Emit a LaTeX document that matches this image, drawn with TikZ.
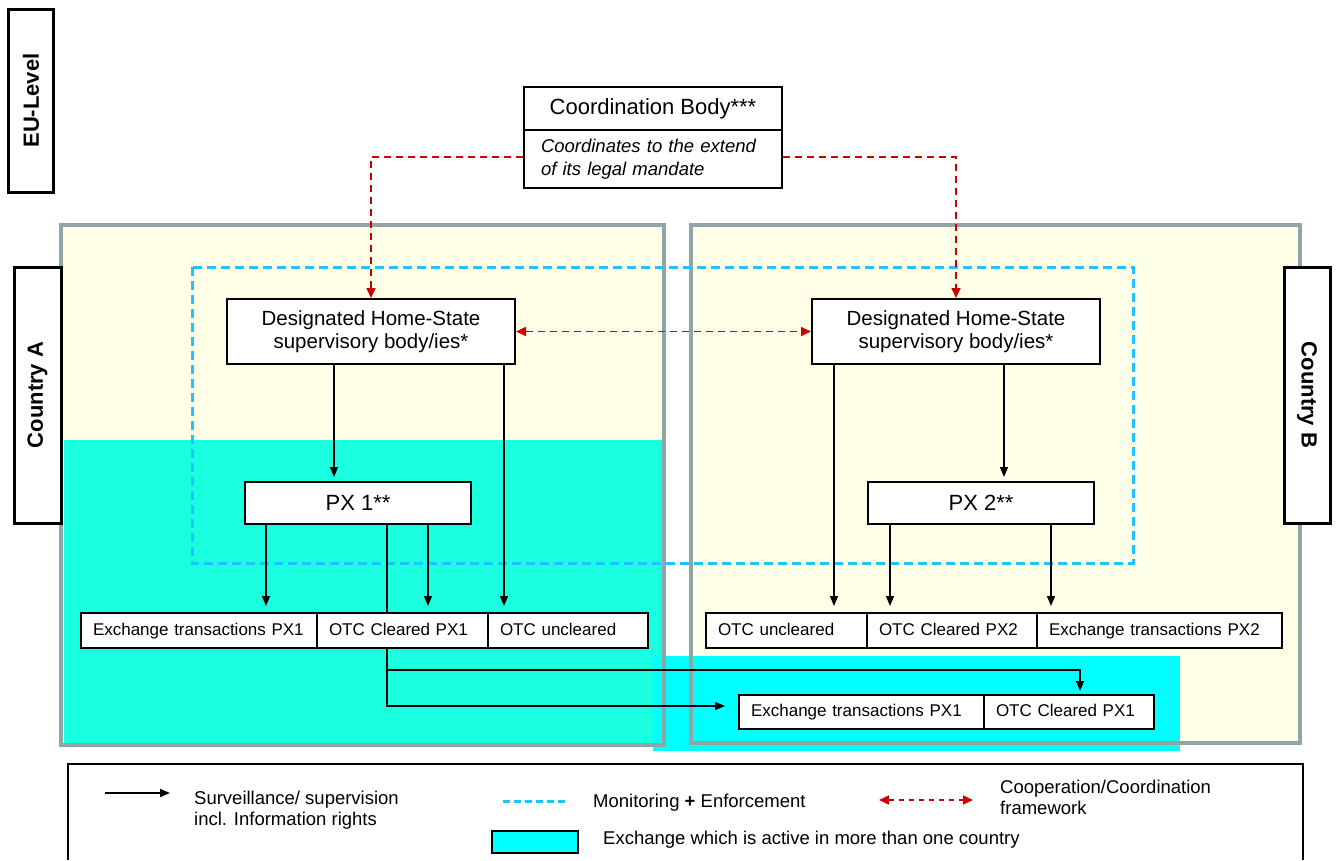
\documentclass[tikz,border=0pt]{standalone}
\usepackage{fontspec}
\setmainfont{Liberation Sans}
\usepackage{xcolor}
\definecolor{paleyellow}{HTML}{FFFEE6}
\definecolor{framegrey}{HTML}{8FA5A6}
\definecolor{turquoise}{HTML}{1AFFE0}
\definecolor{aqua}{HTML}{00FFFF}
\definecolor{skyblue}{HTML}{1EC3FF}
\definecolor{coopred}{HTML}{CC0000}
\usetikzlibrary{arrows.meta}
\tikzset{
    x=1pt, y=-1pt,
    box/.style = {draw, line width=2pt, fill=white, inner sep=0pt, align=center},
    cell/.style = {box, minimum height=35pt, inner xsep=12pt, text height=12.5pt, text depth=3.5pt, align=left, font=\fontsize{17}{20}\selectfont},
    tag/.style = {draw, line width=3pt, fill=white, inner sep=0pt, font=\fontsize{22}{26}\selectfont\bfseries},
    sup/.style = {-{Triangle[length=10pt,width=8pt]}, line width=1.3pt},
    coop/.style = {>={Triangle[length=10pt,width=9pt]}, draw=coopred, line width=1.6pt, dash pattern=on 7pt off 5pt},
    monitor/.style = {draw=skyblue, line width=3pt, dash pattern=on 9pt off 5pt},
    country/.style = {draw=framegrey, line width=3.5pt},
    leg/.style = {inner sep=0pt, anchor=west, align=left, font=\fontsize{18.5}{21.5}\selectfont}
}

\begin{document}
\begin{tikzpicture}
      \useasboundingbox (0,0) rectangle (1340,860);

      % countries and the cross-border area
      \fill[paleyellow] (61,225) rectangle (664,745);
      \fill[paleyellow] (691,225) rectangle (1300,743);
      \fill[turquoise] (64,440) rectangle (662,745);
      \fill[aqua] (653,656) rectangle (1180,751);
      \draw[country] (61,225) rectangle (664,745);
      \draw[country] (691,225) rectangle (1300,743);
      \draw[monitor] (192,267) rectangle (1133,563);

      \node[tag, rotate=90, minimum width=183pt, minimum height=45pt] (eu) at (31,100.5) {EU-Level};
      \node[tag, rotate=90, minimum width=256pt, minimum height=47pt] (countryA) at (37.5,395) {Country A};
      \node[tag, rotate=-90, minimum width=256pt, minimum height=46pt] (countryB) at (1307,395) {Country B};

      \node[box, font=\fontsize{22}{26}\selectfont, minimum width=258pt, minimum height=43pt] (coord) at (653,108.5) {Coordination Body***};
      \node[box, font=\fontsize{18.5}{23}\selectfont\itshape, align=left, text width=224pt, inner xsep=17pt, minimum height=58pt] (mandate) at (653,159) {Coordinates to the extend\\of its legal mandate};

      \node[box, font=\fontsize{20.5}{23}\selectfont, minimum width=288pt, minimum height=65pt] (desA) at (371,331.5) {Designated Home-State\\supervisory body/ies*};
      \node[box, font=\fontsize{20.5}{23}\selectfont, minimum width=288pt, minimum height=65pt] (desB) at (956,331.5) {Designated Home-State\\supervisory body/ies*};

      \node[box, font=\fontsize{22}{26}\selectfont, minimum width=226pt, minimum height=42pt] (px1) at (358,503) {PX 1**};
      \node[box, font=\fontsize{22}{26}\selectfont, minimum width=226pt, minimum height=42pt] (px2) at (981,503) {PX 2**};

      \node[cell, text width=212pt] (exA) at (199,630.5) {Exchange transactions PX1};
      \node[cell, text width=147pt] (otcA) at (402.5,630.5) {OTC Cleared PX1};
      \node[cell, text width=136pt] (uncA) at (568,630.5) {OTC uncleared};

      \node[cell, text width=137pt] (uncB) at (786.5,630.5) {OTC uncleared};
      \node[cell, text width=146pt] (otcB) at (952,630.5) {OTC Cleared PX2};
      \node[cell, text width=221pt] (exB) at (1159.5,630.5) {Exchange transactions PX2};

      \node[cell, text width=221pt, minimum height=34pt] (exC) at (861.5,712) {Exchange transactions PX1};
      \node[cell, text width=146pt, minimum height=34pt] (otcC) at (1069,712) {OTC Cleared PX1};

      % coordination
      \draw[coop, ->] ([yshift=2pt]mandate.west) -| (desA.north);
      \draw[coop, ->] ([yshift=2pt]mandate.east) -| (desB.north);
      \draw[coop, <->] (desA.east) -- (desB.west);

      % supervision, country A
      \draw[sup, shorten >=4pt] ([xshift=-37pt]desA.south) -- ([xshift=-24pt]px1.north);
      \draw[sup, shorten >=6pt] ([xshift=133pt]desA.south) -- ([xshift=-64pt]uncA.north);
      \draw[sup, shorten >=6pt] ([xshift=-92pt]px1.south) -- ([xshift=67pt]exA.north);
      \draw[sup, shorten >=6pt] ([xshift=70pt]px1.south) -- ([xshift=25.5pt]otcA.north);
      \draw[line width=1.3pt] ([xshift=29pt]px1.south) -- ([xshift=-15.5pt]otcA.north);
      \draw[sup, shorten >=13pt] ([xshift=-15.5pt]otcA.south) |- ([yshift=6pt]exC.west);
      \coordinate (fork) at ([xshift=-15.5pt, yshift=-21pt]otcA.south);
      \draw[sup, shorten >=3pt] (fork) -| ([xshift=11pt]otcC.north);

      % supervision, country B
      \draw[sup, shorten >=6pt] ([xshift=-122pt]desB.south) -- ([xshift=47.5pt]uncB.north);
      \draw[sup, shorten >=4pt] ([xshift=48pt]desB.south) -- ([xshift=23pt]px2.north);
      \draw[sup, shorten >=6pt] ([xshift=-91pt]px2.south) -- ([xshift=-62pt]otcB.north);
      \draw[sup, shorten >=6pt] ([xshift=70pt]px2.south) -- ([xshift=-108.5pt]exB.north);

      % legend
      \draw[line width=1.2pt] (68,860) |- (1303,764) -- (1303,860);
      \coordinate (supA) at (105,793);
      \coordinate (supB) at (170,793);
      \draw[sup, line width=1.8pt] (supA) -- (supB);
      \node[leg] (legSup) at (194,810) {Surveillance/ supervision\\incl. Information rights};
      \coordinate (monA) at (503,801);
      \coordinate (monB) at (567,801);
      \draw[monitor, dash pattern=on 7pt off 4pt] (monA) -- (monB);
      \node[leg] (legMon) at (593,803) {Monitoring \textbf{+} Enforcement};
      \coordinate (coopA) at (879,800);
      \coordinate (coopB) at (973,800);
      \draw[coop, <->, dash pattern=on 5pt off 5pt] (coopA) -- (coopB);
      \node[leg] (legCoop) at (1000,797.5) {Cooperation/Coordination\\framework};
      \node[box, fill=aqua, line width=1.5pt, minimum width=86pt, minimum height=22pt] (legCross) at (535,842) {};
      \node[leg] (legCrossText) at (603,840) {Exchange which is active in more than one country};
    \end{tikzpicture}
\end{document}
